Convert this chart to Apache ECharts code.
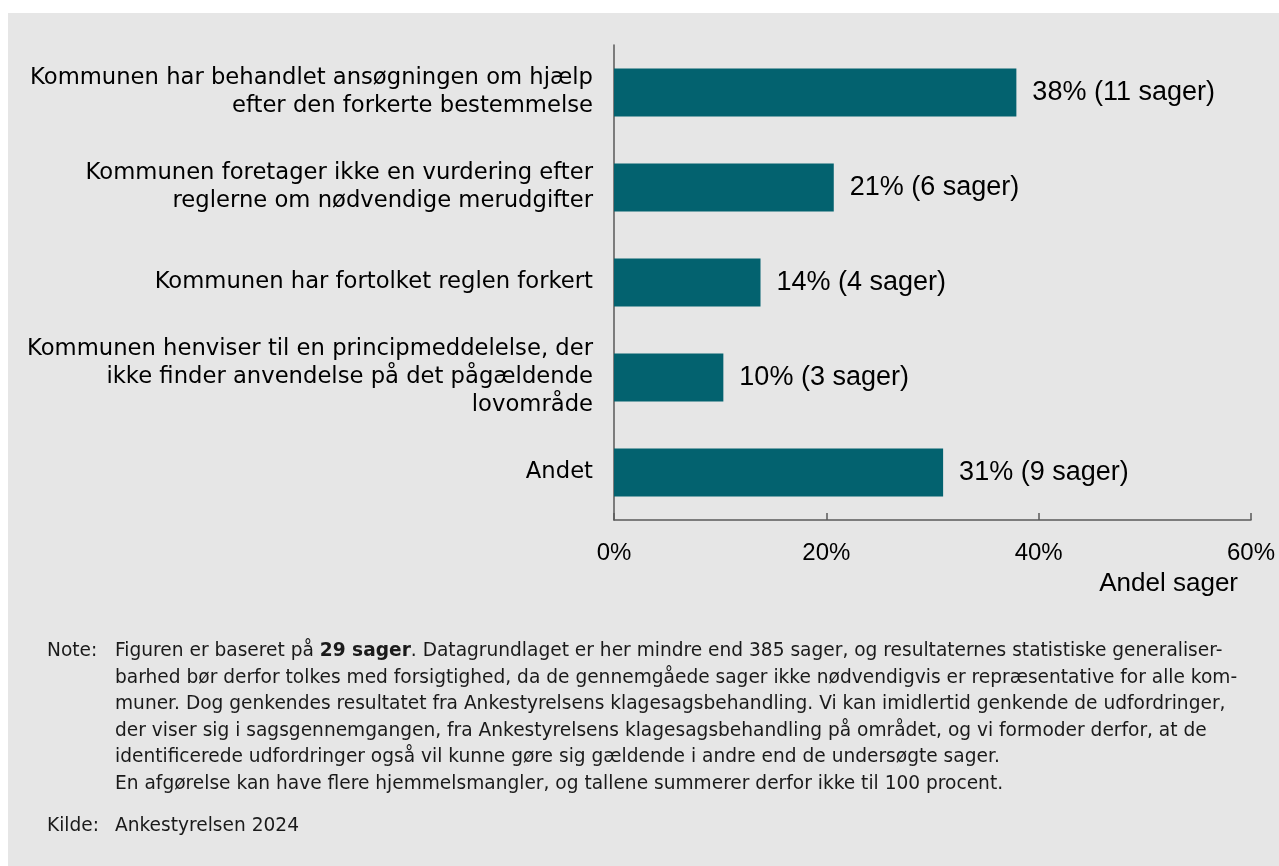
<!DOCTYPE html>
<html>
<head>
<meta charset="utf-8">
<script src="https://cdn.jsdelivr.net/npm/echarts@6/dist/echarts.min.js"></script>
<style>
  html, body { margin: 0; padding: 0; background: #fff; }
  #chart { width: 1279px; height: 866px; }
</style>
</head>
<body>
<div id="chart"></div>
<script>
// kategorier (ovenfra og ned)
var categories = [
    'Kommunen har behandlet ansøgningen om hjælp\nefter den forkerte bestemmelse',
    'Kommunen foretager ikke en vurdering efter\nreglerne om nødvendige merudgifter',
    'Kommunen har fortolket reglen forkert',
    'Kommunen henviser til en principmeddelelse, der\nikke finder anvendelse på det pågældende\nlovområde',
    'Andet'
];
// andel sager i procent
var shares = [37.9, 20.7, 13.8, 10.3, 31.0];
// antal sager
var cases = [11, 6, 4, 3, 9];
var xTicks = [0, 20, 40, 60];

var noteLines = [
    'barhed bør derfor tolkes med forsigtighed, da de gennemgåede sager ikke nødvendigvis er repræsentative for alle kom-',
    'muner. Dog genkendes resultatet fra Ankestyrelsens klagesagsbehandling. Vi kan imidlertid genkende de udfordringer,',
    'der viser sig i sagsgennemgangen, fra Ankestyrelsens klagesagsbehandling på området, og vi formoder derfor, at de',
    'identificerede udfordringer også vil kunne gøre sig gældende i andre end de undersøgte sager.',
    'En afgørelse kan have flere hjemmelsmangler, og tallene summerer derfor ikke til 100 procent.'
];

var noteFont = 'Verdana, "DejaVu Sans", sans-serif';
var labelFont = 'Verdana, "DejaVu Sans", sans-serif';
var chartFont = 'Arial, "Liberation Sans", sans-serif';
var noteSize = 18.6;
var noteColor = '#1a1a1a';

function noteText(x, y, text) {
    return {
        type: 'text', x: x, y: y,
        style: {
            text: text, fontSize: noteSize, fontFamily: noteFont, fill: noteColor,
            verticalAlign: 'middle'
        }
    };
}

var graphics = [
    {
        type: 'rect', z: -10, silent: true,
        shape: { x: 8, y: 13, width: 1271, height: 853 },
        style: { fill: '#e6e6e6' }
    },
    {
        type: 'text', x: 1238, y: 584,
        style: {
            text: 'Andel sager', fontSize: 26, fontFamily: chartFont, fill: '#000',
            align: 'right', verticalAlign: 'middle'
        }
    },
    noteText(47, 651, 'Note:'),
    {
        type: 'text', x: 115, y: 651,
        style: {
            text: '{n|Figuren er baseret på }{b|29 sager}{n|. Datagrundlaget er her mindre end 385 sager, og resultaternes statistiske generaliser-}',
            verticalAlign: 'middle',
            rich: {
                n: { fontSize: noteSize, fontFamily: noteFont, fill: noteColor },
                b: { fontSize: noteSize, fontFamily: noteFont, fill: noteColor, fontWeight: 'bold' }
            }
        }
    },
    noteText(47, 826, 'Kilde:'),
    noteText(115, 826, 'Ankestyrelsen 2024')
];
var noteYs = [678, 704, 731, 757, 784];
noteLines.forEach(function(line, i) {
    graphics.push(noteText(115, noteYs[i], line));
});

var myChart = echarts.init(document.getElementById('chart'));
myChart.setOption({
    animation: false,
    backgroundColor: '#fff',
    grid: { left: 614, right: 28, top: 45, bottom: 346, containLabel: false },
    xAxis: {
        type: 'value',
        min: xTicks[0],
        max: xTicks[xTicks.length - 1],
        interval: 20,
        splitLine: { show: false },
        axisLine: { show: true, lineStyle: { color: '#595959', width: 1.5 } },
        axisTick: { show: true, inside: true, length: 7, lineStyle: { color: '#595959', width: 1.5 } },
        axisLabel: {
            margin: 21, fontSize: 24, fontFamily: chartFont, color: '#000',
            formatter: '{value}%'
        }
    },
    yAxis: {
        type: 'category',
        inverse: true,
        data: categories,
        axisLine: { show: true, lineStyle: { color: '#595959', width: 1.5 } },
        axisTick: { show: false },
        axisLabel: {
            margin: 21, fontSize: 22.7, lineHeight: 28, fontFamily: labelFont,
            color: '#000', align: 'right'
        }
    },
    series: [{
        type: 'bar',
        data: shares,
        barWidth: 48,
        itemStyle: { color: '#03626f' },
        label: {
            show: true,
            position: 'right',
            distance: 16,
            fontSize: 27,
            fontFamily: chartFont,
            color: '#000',
            formatter: function(p) {
                return Math.round(p.value) + '% (' + cases[p.dataIndex] + ' sager)';
            }
        }
    }],
    graphic: graphics
});
</script>
</body>
</html>
